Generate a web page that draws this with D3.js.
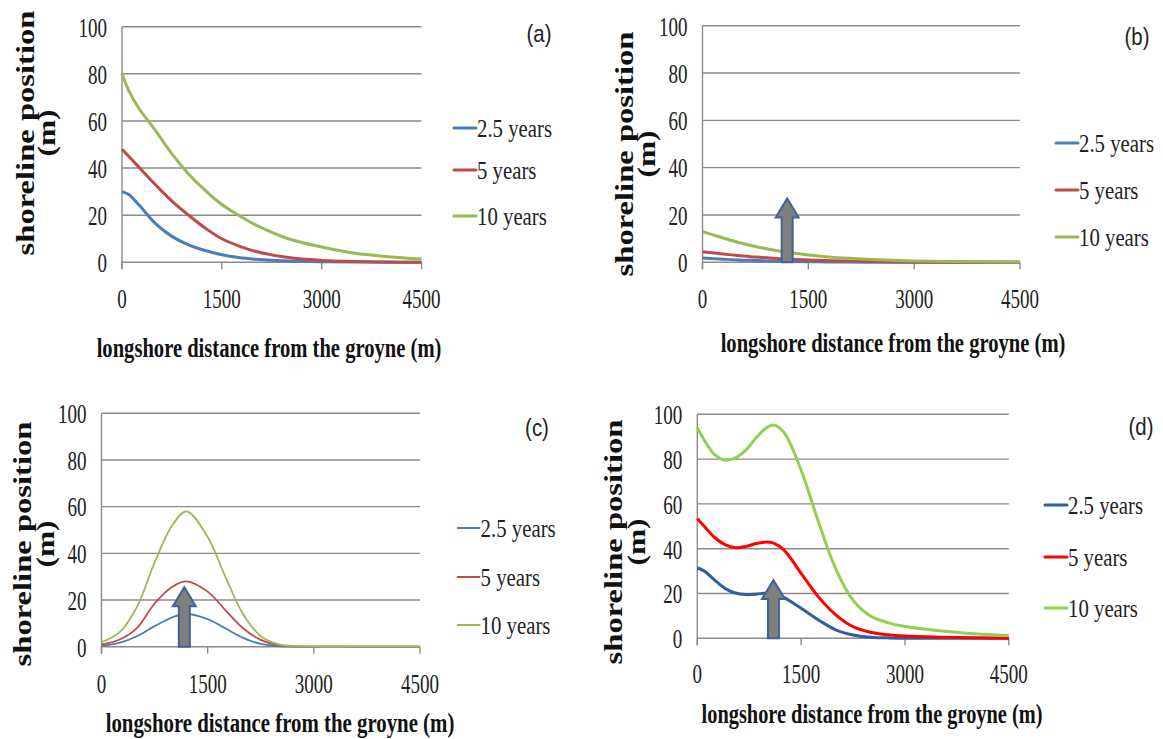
<!DOCTYPE html>
<html>
<head>
<meta charset="utf-8">
<script src="https://cdn.jsdelivr.net/npm/d3@7"></script>
<style>
  body { margin: 0; background: #fff; }
  svg { display: block; }
</style>
</head>
<body>
<script>
const seriesNames = ['2.5 years', '5 years', '10 years'];
const xTicks = [0, 1500, 3000, 4500];
const yTicks = [0, 20, 40, 60, 80, 100];
const panelLabels = ['(a)', '(b)', '(c)', '(d)'];

// (a) and (b) share the same x sampling
const xsAB = [0, 100, 250, 500, 750, 1000, 1250, 1500, 1750, 2000, 2500, 3000, 3500, 4000, 4500];
const aBlue = [30, 28.8, 24.5, 16.5, 11, 7.4, 5, 3.2, 2, 1.3, 0.5, 0.2, 0.1, 0, 0];
const aRed = [48, 45, 40.5, 33, 26, 20, 14.5, 10, 7, 4.7, 2, 0.8, 0.3, 0.1, 0];
const aGreen = [80, 73, 65.5, 56, 46, 37.5, 30.5, 24.5, 20, 16, 10, 6.5, 3.8, 2.4, 1.4];

const bBlue = [1.8, 1.6, 1.4, 1.0, 0.75, 0.5, 0.35, 0.25, 0.15, 0.1, 0, 0, 0, 0, 0];
const bRed = [4.5, 4.1, 3.6, 2.9, 2.2, 1.7, 1.3, 1.0, 0.75, 0.55, 0.3, 0.1, 0.05, 0, 0];
const bGreen = [13, 12, 10.7, 8.5, 6.7, 5.2, 4, 3.1, 2.4, 1.8, 1.1, 0.6, 0.3, 0.2, 0.1];

const xsC = [0, 250, 500, 750, 1000, 1200, 1500, 1750, 2000, 2250, 2500, 2750, 3000, 3500, 4000, 4500];
const cBlue = [0.3, 1.6, 4.5, 8.8, 12.6, 14, 11.8, 7.9, 3.8, 1.2, 0.3, 0, 0, 0, 0, 0];
const cRed = [1, 3, 8, 18.5, 25.7, 28, 23.6, 15.7, 7.9, 2.9, 0.7, 0.1, 0, 0, 0, 0];
const cGreen = [2, 6, 17, 36, 52, 58, 47, 30, 14, 4.5, 1, 0.2, 0, 0, 0, 0];

const xsD = [0, 100, 250, 400, 550, 700, 850, 1000, 1100, 1250, 1500, 1750, 2000, 2250, 2500, 2750, 3000, 3500, 4000, 4500];
const dBlue = [31.5, 30, 26, 22.3, 20.2, 19.5, 19.7, 20.2, 20.1, 18.3, 13.4, 8.2, 3.8, 1.5, 0.5, 0.2, 0, 0, 0, 0];
const dRed = [53.5, 50, 45, 41.8, 40.4, 41, 42.3, 43, 42.5, 39.5, 29, 18.5, 10.5, 5.2, 2.7, 1.6, 1, 0.5, 0.2, 0];
const dGreen = [94, 88.5, 82, 79.5, 80.5, 84, 89.5, 94, 95.2, 92, 75, 52, 31, 17, 10, 7, 5.3, 3.4, 2, 1.2];

// groyne arrows (none in panel a)
const arrowX = [null, 1200, 1170, 1100];
const arrowTop = [null, 27, 25.5, 26];

const palette1 = ['#4a7ebb', '#be4b48', '#98b954'];
const palette2 = ['#2f5f9e', '#ff0000', '#92d050'];

const panels = [
  { left: 122, right: 421.5, top: 26.7, bottom: 262.3, legX: 454, legY: [128, 170, 216],
    labelX: 539, labelY: 34, tickY: 298, titleX: 269, titleY: 347, titleW: 345,
    yTitleX: [25, 46], yTitleY: 133, xs: xsAB, values: [aBlue, aRed, aGreen], colors: palette1, lw: 3 },
  { left: 702.5, right: 1020, top: 25.7, bottom: 262.3, legX: 1056, legY: [143, 190, 237],
    labelX: 1137, labelY: 37, tickY: 298, titleX: 893, titleY: 342, titleW: 345,
    yTitleX: [624, 646], yTitleY: 154, xs: xsAB, values: [bBlue, bRed, bGreen], colors: palette1, lw: 3 },
  { left: 101.5, right: 420, top: 413.3, bottom: 646.7, legX: 457.6, legY: [528, 577, 625],
    labelX: 537, labelY: 428, tickY: 683, titleX: 280, titleY: 722, titleW: 349,
    yTitleX: [22, 45], yTitleY: 544, xs: xsC, values: [cBlue, cRed, cGreen], colors: palette1, lw: 1.8 },
  { left: 697.3, right: 1008.8, top: 414.3, bottom: 638.3, legX: 1045, legY: [505, 557, 608],
    labelX: 1141, labelY: 427, tickY: 673, titleX: 872, titleY: 713, titleW: 341,
    yTitleX: [613, 636], yTitleY: 542, xs: xsD, values: [dBlue, dRed, dGreen], colors: palette2, lw: 3 }
];

const svg = d3.select('body')
  .append('svg')
  .attr('width', 1163)
  .attr('height', 739);

const serif = '"Liberation Serif", "Times New Roman", serif';

// squeeze/stretch a text horizontally (in its own frame) to a target length
function fitText (sel, len) {
  const natural = sel.node().getComputedTextLength();
  return len / natural;
}

panels.forEach((p, i) => {
  const x = d3.scaleLinear().domain([0, 4500]).range([p.left, p.right]);
  const y = d3.scaleLinear().domain([0, 100]).range([p.bottom, p.top]);
  const g = svg.append('g').attr('class', 'panel');

  // horizontal gridlines
  g.selectAll('.grid')
    .data(yTicks)
    .enter()
    .append('line')
    .attr('x1', p.left)
    .attr('x2', p.right)
    .attr('y1', d => y(d))
    .attr('y2', d => y(d))
    .attr('stroke', '#8a8a8a')
    .attr('stroke-width', 1.4);

  // vertical axis line
  g.append('line')
    .attr('x1', p.left).attr('x2', p.left)
    .attr('y1', y(100)).attr('y2', y(0) + 7)
    .attr('stroke', '#8a8a8a')
    .attr('stroke-width', 1.4);

  // x tick marks
  g.selectAll('.xtick')
    .data(xTicks)
    .enter()
    .append('line')
    .attr('x1', d => x(d)).attr('x2', d => x(d))
    .attr('y1', y(0)).attr('y2', y(0) + 7)
    .attr('stroke', '#8a8a8a')
    .attr('stroke-width', 1.4);

  // y tick labels
  g.selectAll('.ylab')
    .data(yTicks)
    .enter()
    .append('text')
    .attr('transform', d => `translate(${p.left - 15},${y(d)}) scale(0.68,1)`)
    .attr('dy', '0.35em')
    .attr('text-anchor', 'end')
    .style('font-family', serif)
    .style('font-size', '28px')
    .attr('fill', '#222')
    .text(d => d);

  // x tick labels
  g.selectAll('.xlab')
    .data(xTicks)
    .enter()
    .append('text')
    .attr('transform', d => `translate(${x(d)},${p.tickY}) scale(0.68,1)`)
    .attr('dy', '0.35em')
    .attr('text-anchor', 'middle')
    .style('font-family', serif)
    .style('font-size', '28px')
    .attr('fill', '#222')
    .text(d => d);

  // curves
  const line = d3.line()
    .x(d => x(d[0]))
    .y(d => y(Math.max(0, d[1])))
    .curve(d3.curveCatmullRom.alpha(0.5));

  p.values.forEach((vals, k) => {
    g.append('path')
      .datum(p.xs.map((xv, j) => [xv, vals[j]]))
      .attr('fill', 'none')
      .attr('stroke', p.colors[k])
      .attr('stroke-width', p.lw)
      .attr('stroke-linejoin', 'round')
      .attr('d', line);
  });

  // groyne arrow
  if (arrowX[i] !== null) {
    const cx = x(arrowX[i]);
    const yb = y(0);
    const yt = y(arrowTop[i]);
    const hw = 11.5, sw = 5.5, hh = 19;
    const pts = [
      [cx - sw, yb], [cx - sw, yt + hh], [cx - hw, yt + hh], [cx, yt],
      [cx + hw, yt + hh], [cx + sw, yt + hh], [cx + sw, yb]
    ];
    g.append('path')
      .attr('d', d3.line()(pts) + 'Z')
      .attr('fill', '#7f7f7f')
      .attr('stroke', '#3f6395')
      .attr('stroke-width', 2)
      .attr('stroke-linejoin', 'miter');
  }

  // legend
  const leg = g.selectAll('.legend')
    .data(seriesNames)
    .enter()
    .append('g')
    .attr('transform', (d, k) => `translate(${p.legX},${p.legY[k]})`);

  leg.append('line')
    .attr('x1', 0).attr('x2', 22)
    .attr('stroke', (d, k) => p.colors[k])
    .attr('stroke-width', p.lw)
    .attr('stroke-linecap', 'round');

  leg.append('text')
    .attr('transform', 'translate(23,0) scale(0.8,1)')
    .attr('dy', '0.35em')
    .style('font-family', serif)
    .style('font-size', '26px')
    .attr('fill', '#222')
    .text(d => d);

  // panel label
  g.append('text')
    .attr('transform', `translate(${p.labelX},${p.labelY}) scale(0.85,1)`)
    .attr('dy', '0.35em')
    .attr('text-anchor', 'middle')
    .style('font-family', '"Liberation Sans", Arial, sans-serif')
    .style('font-size', '24px')
    .attr('fill', '#222')
    .text(panelLabels[i]);

  // x title
  const xt = g.append('text')
    .attr('dy', '0.35em')
    .attr('text-anchor', 'middle')
    .style('font-family', serif)
    .style('font-size', '28px')
    .style('font-weight', 'bold')
    .attr('fill', '#111')
    .text('longshore distance from the groyne (m)');
  xt.attr('transform', `translate(${p.titleX},${p.titleY}) scale(${fitText(xt, p.titleW)},1)`);

  // y title (two lines, rotated)
  [['shoreline position', 245], ['(m)', 47]].forEach(([txt, len], k) => {
    const yt = g.append('text')
      .attr('dy', '0.35em')
      .attr('text-anchor', 'middle')
      .style('font-family', serif)
      .style('font-size', '25px')
      .style('font-weight', 'bold')
      .attr('fill', '#111')
      .text(txt);
    yt.attr('transform', `translate(${p.yTitleX[k]},${p.yTitleY}) rotate(-90) scale(${fitText(yt, len)},1)`);
  });
});
</script>
</body>
</html>
